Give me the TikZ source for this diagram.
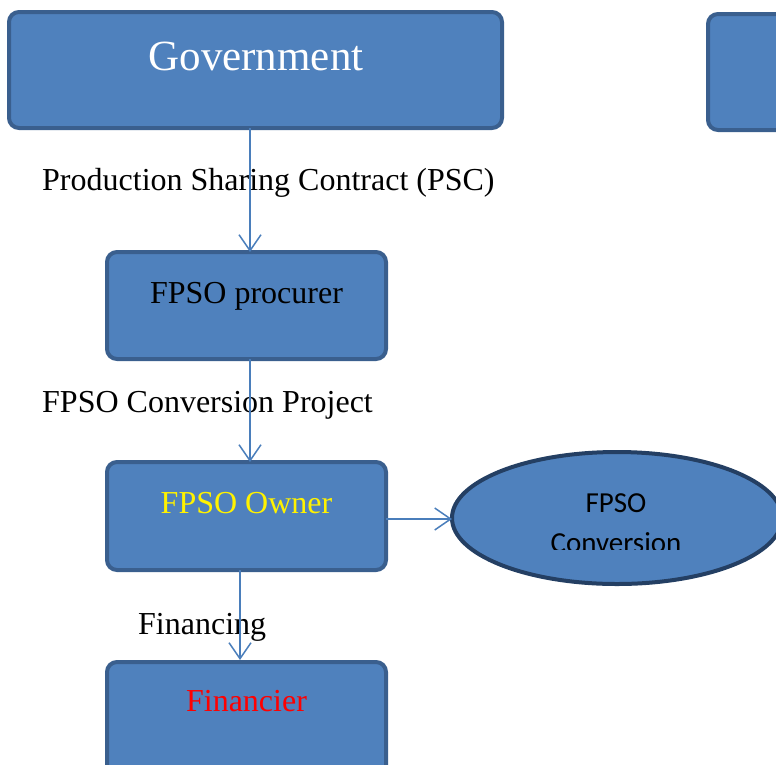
\documentclass[tikz,border=0pt]{standalone}
\usepackage{fontspec}
\setmainfont{Liberation Serif}
\newfontfamily\calib{Carlito}
\usetikzlibrary{arrows.meta,shapes.geometric}
\definecolor{boxfill}{HTML}{4F81BD}
\definecolor{boxline}{HTML}{3A5F8E}
\definecolor{ellline}{HTML}{243F63}
\definecolor{arrowc}{HTML}{4A7EBB}
\tikzset{
  box/.style={draw=boxline, fill=boxfill, line width=4pt, rounded corners=10pt, inner sep=0pt},
  boxtext/.style={inner sep=0pt, anchor=base, font=\fontsize{32}{36}\selectfont},
  lbl/.style={inner sep=0pt, anchor=base west, font=\fontsize{32}{36}\selectfont},
  conn/.style={draw=arrowc, line width=1.5pt, -{Straight Barb[length=16pt,width=22pt,line width=1.5pt]}}
}
\begin{document}
\begin{tikzpicture}[x=1pt,y=-1pt]
\useasboundingbox (0,0) rectangle (776,764);
\clip (0,0) rectangle (776,764);
% boxes
\node[box, minimum width=493pt, minimum height=116pt] (gov) at (255.5,70) {};
\node[box, minimum width=200pt, minimum height=116pt, anchor=north west] (right) at (706,12) {};
\node[box, minimum width=279pt, minimum height=107pt] (proc) at (246.5,305.5) {};
\node[box, minimum width=279pt, minimum height=108pt] (owner) at (246.5,516) {};
\node[box, minimum width=279pt, minimum height=140pt, anchor=north] (fin) at (246.5,660) {};
\node[ellipse, draw=ellline, fill=boxfill, line width=4pt, minimum width=330pt, minimum height=132pt, inner sep=0pt] (conv) at (617,518) {};
% box texts
\node[inner sep=0pt, anchor=base, text=white, font=\fontsize{43}{48}\selectfont] (govt) at (256,70) {Government};
\node[boxtext] (proct) at (246.5,303) {FPSO procurer};
\node[boxtext, text=yellow] (ownert) at (246.5,513) {FPSO Owner};
\node[boxtext, text=red] (fint) at (246.5,711) {Financier};
\begin{scope}
\clip (440,440) rectangle (776,549.5);
\node[inner sep=0pt, anchor=base, font=\calib\fontsize{29}{40}\selectfont] (convt1) at (616,512) {FPSO};
\node[inner sep=0pt, anchor=base, font=\calib\fontsize{29}{40}\selectfont] (convt2) at (616,552) {Conversion};
\end{scope}
% labels
\node[lbl] (l1) at (42,190) {Production Sharing Contract (PSC)};
\node[lbl] (l2) at (42,412) {FPSO Conversion Project};
\node[lbl] (l3) at (138,634) {Financing};
% connectors
\coordinate (a1) at (250,128);
\coordinate (a2) at (250,252);
\draw[conn] (a1) -- (a2);
\coordinate (b1) at (250,359);
\coordinate (b2) at (250,462);
\draw[conn] (b1) -- (b2);
\coordinate (c1) at (386,519);
\coordinate (c2) at (452,519);
\draw[conn] (c1) -- (c2);
\coordinate (d1) at (240,570);
\coordinate (d2) at (240,660);
\draw[conn] (d1) -- (d2);
\end{tikzpicture}
\end{document}
